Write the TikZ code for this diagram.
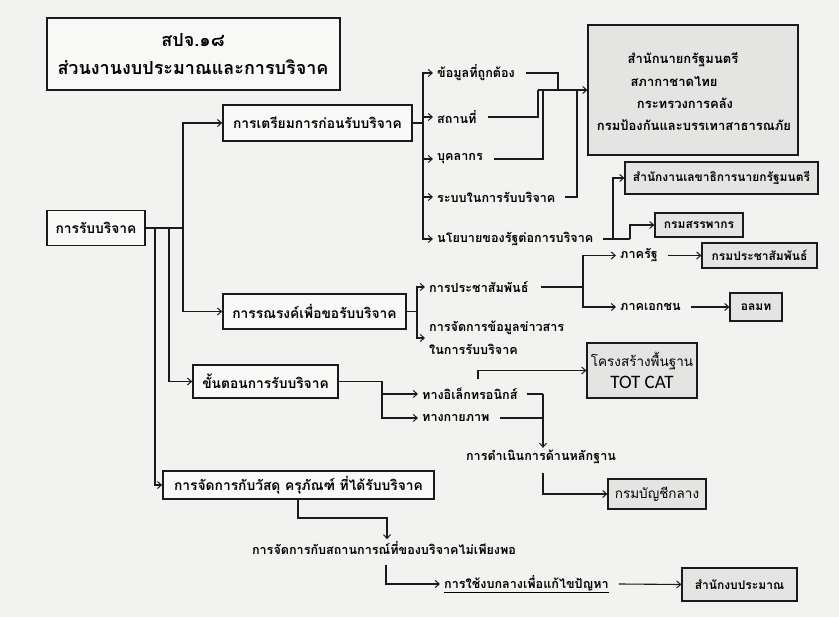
\documentclass[tikz,border=0pt]{standalone}
\usepackage{fontspec}
\setmainfont[Script=Thai]{Loma}
\newfontfamily\latinfont{Carlito}
\usetikzlibrary{arrows.meta}

\definecolor{paper}{HTML}{F2F2F0}
\definecolor{boxwhite}{HTML}{F8F8F7}
\definecolor{boxgray}{HTML}{E4E4E3}
\definecolor{ink}{HTML}{1A1A1A}

\tikzset{
  conn/.style={draw=ink, line width=1.1pt},
  arr/.style={conn, -{Straight Barb[length=4pt,width=7pt,line width=1pt]}},
  mainbox/.style={draw=ink, line width=1.7pt, fill=boxwhite, inner sep=0pt,
    font=\bfseries\fontsize{13.8}{16}\selectfont},
  graybox/.style={draw=ink, line width=1.2pt, fill=boxgray, inner sep=0pt,
    font=\bfseries\fontsize{12}{15}\selectfont},
  item/.style={anchor=west, inner xsep=4pt, inner ysep=2pt,
    font=\bfseries\fontsize{12.6}{15}\selectfont},
  boxline/.style={inner sep=1pt, font=\bfseries\fontsize{13}{15}\selectfont},
}

\begin{document}
\begin{tikzpicture}[x=1pt,y=-1pt]
  \useasboundingbox (0,0) rectangle (839,617);
  \fill[paper] (0,0) rectangle (839,617);

  % heading
  \node[mainbox, line width=2pt, minimum width=293, minimum height=72, align=center,
        font=\bfseries\fontsize{18}{28}\selectfont] (title) at (193,54)
        {สปจ.๑๘\\ส่วนงานงบประมาณและการบริจาค};

  % main branches
  \node[mainbox, line width=1.4pt, minimum width=98, minimum height=35] (root) at (96,228) {การรับบริจาค};
  \node[mainbox, minimum width=189, minimum height=36] (prep) at (317.5,123) {การเตรียมการก่อนรับบริจาค};
  \node[mainbox, minimum width=183, minimum height=35] (camp) at (314.5,311.5) {การรณรงค์เพื่อขอรับบริจาค};
  \node[mainbox, minimum width=145, minimum height=33] (steps) at (265.5,381.5) {ขั้นตอนการรับบริจาค};
  \node[mainbox, minimum width=271, minimum height=28] (goods) at (298.5,485) {การจัดการกับวัสดุ ครุภัณฑ์ ที่ได้รับบริจาค};

  \coordinate (j1) at (183,228);
  \coordinate (j2) at (169,228);
  \coordinate (j3) at (155,228);
  \draw[conn] (root.east) -- (j1);
  \draw[arr] (j1) |- (prep.west);
  \draw[arr] (j1) |- (camp.west);
  \draw[arr] (j2) |- (steps.west);
  \draw[arr] (j3) |- (goods.west);

  % preparation
  \node[item] (i1) at (433,73) {ข้อมูลที่ถูกต้อง};
  \node[item] (i2) at (433,117) {สถานที่};
  \node[item] (i3) at (433,159) {บุคลากร};
  \node[item] (i4) at (433,197) {ระบบในการรับบริจาค};
  \node[item] (i5) at (433,239) {นโยบายของรัฐต่อการบริจาค};
  \coordinate (pj) at (423,123);
  \draw[conn] (prep.east) -- (pj);
  \foreach \n in {i1,i2,i3,i4,i5} { \draw[arr] (pj) |- (\n.west); }

  \node[graybox, minimum width=210, minimum height=130] (ag) at (693,90) {};
  \node[boxline] (ag1) at (683,60) {สำนักนายกรัฐมนตรี};
  \node[boxline] (ag2) at (674,82) {สภากาชาดไทย};
  \node[boxline] (ag3) at (685,103) {กระทรวงการคลัง};
  \node[boxline] (ag4) at (694,125) {กรมป้องกันและบรรเทาสาธารณภัย};

  \coordinate (ca) at (538,90);
  \draw[conn] ([xshift=7pt]i1.east) -| (558,90);
  \draw[conn] ([xshift=7pt]i2.east) -| (ca);
  \draw[conn] ([xshift=7pt]i3.east) -| (543,90);
  \draw[conn] ([xshift=5pt]i4.east) -| (577,90);
  \draw[arr] (ca) -- (ag.west);

  \node[graybox, minimum width=193, minimum height=32] (sec) at (721.5,178) {สำนักงานเลขาธิการนายกรัฐมนตรี};
  \node[graybox, minimum width=88, minimum height=24] (rev) at (699,225) {กรมสรรพากร};
  \coordinate (q1) at (613,239);
  \coordinate (q2) at (630,239);
  \draw[conn] ([xshift=5pt]i5.east) -- (q2);
  \draw[arr] (q1) |- (sec.west);
  \draw[arr] (q2) |- (rev.west);

  % campaign
  \node[item] (pr) at (425,287) {การประชาสัมพันธ์};
  \node[item, align=left, font=\bfseries\fontsize{12.6}{23}\selectfont] (info) at (425,338)
        {การจัดการข้อมูลข่าวสาร\\ในการรับบริจาค};
  \coordinate (cj) at (417,311.5);
  \draw[conn] (camp.east) -- (cj);
  \draw[arr] (cj) |- (pr.west);
  \draw[arr] (cj) |- (info.west);

  \node[item] (gov) at (616,255.5) {ภาครัฐ};
  \node[item] (priv) at (616,307) {ภาคเอกชน};
  \coordinate (pj2) at (583,287);
  \draw[conn] ([xshift=8pt]pr.east) -- (pj2);
  \draw[arr] (pj2) |- (gov.west);
  \draw[arr] (pj2) |- (priv.west);

  \node[graybox, minimum width=115, minimum height=25] (prd) at (759.5,255.5) {กรมประชาสัมพันธ์};
  \node[graybox, minimum width=52, minimum height=28] (ols) at (756,307) {อลมท};
  \draw[arr] ([xshift=6pt]gov.east) -- (prd.west);
  \draw[arr] ([xshift=6pt]priv.east) -- (ols.west);

  % donation channels
  \node[item] (ele) at (418,394) {ทางอิเล็กทรอนิกส์};
  \node[item] (phy) at (418,418) {ทางกายภาพ};
  \coordinate (sj) at (382,381.5);
  \draw[conn] (steps.east) -- (sj);
  \draw[arr] (sj) |- (ele.west);
  \draw[arr] (sj) |- (phy.west);

  \node[graybox, minimum width=110, minimum height=55, align=center,
        font=\fontsize{13.5}{22}\selectfont] (tot) at (642,370.5)
        {โครงสร้างพื้นฐาน\\{\latinfont\fontsize{19}{22}\selectfont TOT CAT}};
  \coordinate (t0) at (478,379);
  \draw[arr] (t0) |- (tot.west);

  \node[item, anchor=center] (evid) at (541,457) {การดำเนินการด้านหลักฐาน};
  \coordinate (e1) at (543,394);
  \draw[conn] ([xshift=5pt]ele.east) -- (e1);
  \draw[conn] ([xshift=6pt]phy.east) -- (e1 |- phy.east);
  \draw[arr] (e1) -- (e1 |- evid.north);

  \node[graybox, minimum width=98, minimum height=30,
        font=\fontsize{13.5}{15}\selectfont] (cg) at (657,494) {กรมบัญชีกลาง};
  \coordinate (e2) at (543,473);
  \draw[arr] (e2) |- (cg.west);

  % shortage handling
  \node[item, anchor=center] (sh) at (384,548) {การจัดการกับสถานการณ์ที่ของบริจาคไม่เพียงพอ};
  \coordinate (g1) at (298,518);
  \draw[arr] (goods.south -| g1) -- (g1) -| ([xshift=3pt]sh.north);

  \node[item] (fund) at (440,584) {\underline{การใช้งบกลางเพื่อแก้ไขปัญหา}};
  \coordinate (f0) at (386,565);
  \draw[arr] (f0) |- (fund.west);

  \node[graybox, minimum width=115, minimum height=33] (sb) at (739.5,584.5) {สำนักงบประมาณ};
  \draw[arr] ([xshift=6pt]fund.east) -- (sb.west);
\end{tikzpicture}
\end{document}
